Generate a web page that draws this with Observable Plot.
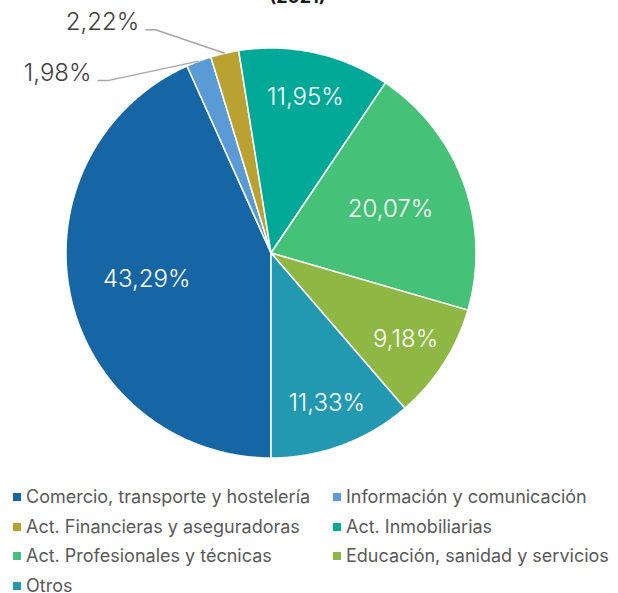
<!DOCTYPE html>
<html><head><meta charset="utf-8">
<script src="https://cdn.jsdelivr.net/npm/d3@7"></script>
<script src="https://cdn.jsdelivr.net/npm/@observablehq/plot@0.6"></script>
<style>
html,body{margin:0;padding:0;background:#fff;}
body{width:618px;height:593px;overflow:hidden;position:relative;font-family:Inter,"Open Sans",sans-serif;}
#title{position:absolute;left:0;top:-12px;width:595px;text-align:center;font:bold 18px/18px Inter,"Open Sans",sans-serif;color:#1a1a1a;}
#chart{position:absolute;left:0;top:0;}
#legend{position:absolute;left:13px;top:488px;display:grid;grid-template-columns:320px 320px;grid-auto-rows:29.7px;font-size:18px;line-height:17px;color:#595959;}
#legend .item{display:flex;align-items:flex-start;white-space:nowrap;}
#legend .sw{width:8px;height:8px;margin:5px 5px 0 0;flex:none;}
</style></head><body>
<div id="title">(2021)</div>
<div id="chart"></div>
<div id="legend"></div>
<script>
const sectors = ["Comercio, transporte y hostelería", "Información y comunicación", "Act. Financieras y aseguradoras", "Act. Inmobiliarias", "Act. Profesionales y técnicas", "Educación, sanidad y servicios", "Otros"];
const shares = [43.29, 1.98, 2.22, 11.95, 20.07, 9.18, 11.33];
const colors = ["#1666a6", "#5b9bd5", "#b9a231", "#00a997", "#46c178", "#8eb743", "#2299b0"];

const W = 618, H = 480, CX = 270.5, CY = 252.5, R = 205;
const total = d3.sum(shares);
const fmt = v => d3.format(".2f")(v).replace(".", ",") + "%";
// callout elbow offsets (in radius units) for the small slices
const callout = {"Información y comunicación": [-0.444, -0.095], "Act. Financieras y aseguradoras": [-0.337, 0.115]};

const sliceRows = [], innerLabels = [], leaderRows = [], outerLabels = [];
let acc = 0;
sectors.forEach((s, i) => {
  const a0 = Math.PI + acc / total * 2 * Math.PI;
  acc += shares[i];
  const a1 = Math.PI + acc / total * 2 * Math.PI;
  const n = Math.max(2, Math.ceil((a1 - a0) / (Math.PI / 360)));
  sliceRows.push({sector: s, x: 0, y: 0});
  for (let k = 0; k <= n; k++) {
    const a = a0 + (a1 - a0) * k / n;
    sliceRows.push({sector: s, x: Math.sin(a), y: Math.cos(a)});
  }
  sliceRows.push({sector: s, x: 0, y: 0});
  const mid = (a0 + a1) / 2;
  if (callout[s]) {
    const px = Math.sin(mid), py = Math.cos(mid);
    const [ox, oy] = callout[s];
    leaderRows.push({sector: s, x: px, y: py});
    leaderRows.push({sector: s, x: px + ox, y: py + oy});
    leaderRows.push({sector: s, x: px + ox - 0.05, y: py + oy});
    outerLabels.push({x: px + ox - 0.05, y: py + oy, text: fmt(shares[i])});
  } else {
    const f = shares[i] > 15 ? 0.62 : 0.78;
    innerLabels.push({x: f * Math.sin(mid), y: f * Math.cos(mid), text: fmt(shares[i])});
  }
});

const chart = Plot.plot({
  width: W, height: H, margin: 0,
  x: {domain: [-CX / R, (W - CX) / R], axis: null},
  y: {domain: [-(H - CY) / R, CY / R], axis: null},
  color: {domain: sectors, range: colors},
  style: {fontFamily: 'Inter, "Open Sans", sans-serif', background: "transparent", overflow: "visible"},
  marks: [
    Plot.line(sliceRows, {x: "x", y: "y", z: "sector", fill: "sector", stroke: "white", strokeWidth: 1.5}),
    Plot.line(leaderRows, {x: "x", y: "y", z: "sector", stroke: "#a6a6a6", strokeWidth: 1.5, strokeLinejoin: "miter", strokeLinecap: "butt"}),
    Plot.text(innerLabels, {x: "x", y: "y", text: "text", fill: "white", fontSize: 24, fontWeight: 300}),
    Plot.text(outerLabels, {x: "x", y: "y", text: "text", fill: "#404040", fontSize: 24, fontWeight: 300, textAnchor: "end", dx: -6, dy: -7})
  ]
});
document.getElementById("chart").appendChild(chart);

const color = chart.scale("color");
const leg = document.getElementById("legend");
sectors.forEach(s => {
  const it = document.createElement("div");
  it.className = "item";
  const sw = document.createElement("span");
  sw.className = "sw";
  sw.style.background = color.apply(s);
  const tx = document.createElement("span");
  tx.textContent = s;
  it.appendChild(sw); it.appendChild(tx);
  leg.appendChild(it);
});
</script>
</body></html>
